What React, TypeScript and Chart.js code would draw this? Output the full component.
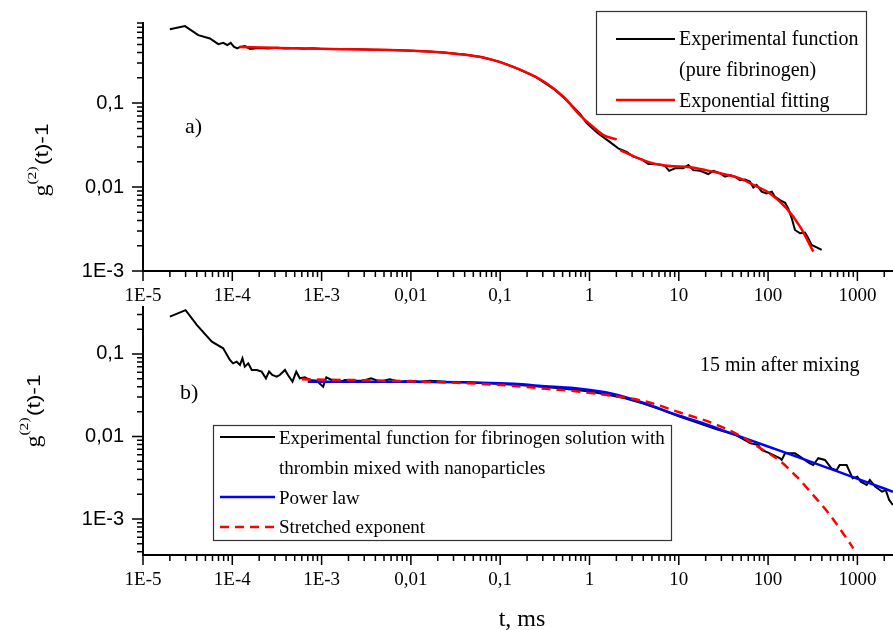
import React, { useEffect, useRef } from 'react';
import { Chart, registerables } from 'chart.js';

Chart.register(...registerables);

// ---------- axis ticks ----------
const xTickValues = [1e-5, 1e-4, 1e-3, 0.01, 0.1, 1, 10, 100, 1000];
const xTickLabels = ['1E-5', '1E-4', '1E-3', '0,01', '0,1', '1', '10', '100', '1000'];
const yTickValues = [1e-3, 0.01, 0.1];
const yTickLabels = ['1E-3', '0,01', '0,1'];

// ---------- panel a) pure fibrinogen ----------
const aExpT = [2e-5, 2.95e-5, 4.16e-5, 5.62e-5, 6.97e-5, 7.93e-5, 8.79e-5, 9.6e-5, 1.045e-4, 1.14e-4, 1.22e-4, 1.39e-4, 1.58e-4, 2e-4, 2.5e-4, 3.2e-4, 4e-4, 5e-4, 6.3e-4, 8e-4, 1e-3, 1.6e-3, 2.5e-3, 4e-3, 6.3e-3, 0.01, 0.016, 0.025, 0.04, 0.063, 0.1, 0.16, 0.25, 0.4, 0.6, 0.78, 0.93, 1.25, 1.6, 2.1, 2.6, 3.1, 3.85, 4.56, 5.65, 7.0, 7.8, 9.07, 11.2, 12.8, 14.5, 17.3, 21.4, 24.4, 28.9, 32.9, 37.4, 42.6, 48.4, 55.1, 62.7, 68.3, 74.4, 84.7, 96.3, 110, 119, 136, 155, 168, 184, 200, 228, 259, 282, 307, 350, 398];
const aExpV = [0.76, 0.826, 0.645, 0.589, 0.504, 0.522, 0.49, 0.522, 0.468, 0.448, 0.468, 0.478, 0.44, 0.452, 0.446, 0.455, 0.447, 0.452, 0.445, 0.449, 0.442, 0.441, 0.437, 0.433, 0.428, 0.421, 0.413, 0.399, 0.38, 0.352, 0.31, 0.255, 0.205, 0.147, 0.1, 0.075, 0.058, 0.0435, 0.036, 0.0289, 0.0263, 0.023, 0.0214, 0.0188, 0.0188, 0.0179, 0.0156, 0.0167, 0.0167, 0.0183, 0.0159, 0.0156, 0.0143, 0.0156, 0.0146, 0.0133, 0.0139, 0.0133, 0.0121, 0.0123, 0.0116, 0.0099, 0.0106, 0.0088, 0.0084, 0.0088, 0.0077, 0.007, 0.0065, 0.00557, 0.00424, 0.00308, 0.00281, 0.00286, 0.00245, 0.00204, 0.00191, 0.00178];

const aFit1T = [1.2e-4, 3e-4, 1e-3, 3e-3, 0.0106, 0.025, 0.059, 0.091, 0.14, 0.216, 0.33, 0.51, 0.78, 1.1, 1.43, 2.02];
const aFit1V = [0.465, 0.455, 0.443, 0.434, 0.42, 0.397, 0.356, 0.316, 0.27, 0.221, 0.172, 0.119, 0.072, 0.052, 0.0416, 0.037];

const aFit2T = [2.2, 4.0, 5.2, 8.0, 13.3, 20, 28.9, 48.4, 68.3, 105, 161, 228, 321];
const aFit2V = [0.0275, 0.0209, 0.0191, 0.0178, 0.0172, 0.0159, 0.0146, 0.0127, 0.0106, 0.0084, 0.00557, 0.00337, 0.0017];

// ---------- panel b) 15 min after mixing ----------
const bExpT = [2e-5, 3e-5, 4e-5, 5.9e-5, 7.9e-5, 9.4e-5, 1.02e-4, 1.12e-4, 1.22e-4, 1.3e-4, 1.38e-4, 1.51e-4, 1.65e-4, 1.88e-4, 2.13e-4, 2.38e-4, 2.58e-4, 2.8e-4, 3.14e-4, 3.4e-4, 3.89e-4, 4.2e-4, 4.72e-4, 5.2e-4, 5.7e-4, 6.5e-4, 7.4e-4, 8.8e-4, 1.04e-3, 1.13e-3, 1.3e-3, 1.61e-3, 1.83e-3, 2.25e-3, 2.9e-3, 3.6e-3, 4.5e-3, 5.8e-3, 7.5e-3, 9.8e-3, 0.0127, 0.0163, 0.025, 0.04, 0.063, 0.1, 0.16, 0.25, 0.4, 0.63, 1, 1.6, 2.5, 4, 6.3, 10, 16, 25, 37.4, 43.6, 50.9, 62.7, 77.4, 84.7, 105, 136, 142, 155, 200, 228, 293, 320, 365, 433, 513, 584, 633, 758, 885, 1000, 1090, 1270, 1380, 1580, 1890, 2080, 2270, 2500];
const bExpV = [0.283, 0.34, 0.225, 0.141, 0.117, 0.0846, 0.077, 0.0806, 0.0736, 0.0887, 0.0702, 0.077, 0.064, 0.064, 0.0611, 0.0507, 0.0611, 0.0556, 0.0531, 0.0556, 0.064, 0.0556, 0.0462, 0.0611, 0.0507, 0.0521, 0.0484, 0.0475, 0.0402, 0.0521, 0.0484, 0.0462, 0.0484, 0.0475, 0.0475, 0.0507, 0.0462, 0.0493, 0.0462, 0.0475, 0.0462, 0.0475, 0.046, 0.0455, 0.0445, 0.0432, 0.042, 0.0405, 0.039, 0.037, 0.035, 0.032, 0.029, 0.025, 0.0212, 0.0175, 0.0148, 0.0125, 0.0109, 0.0104, 0.0095, 0.0083, 0.0079, 0.00686, 0.00625, 0.00545, 0.0052, 0.00625, 0.00625, 0.0057, 0.00473, 0.0045, 0.00545, 0.0052, 0.00411, 0.0039, 0.0045, 0.0045, 0.00311, 0.00326, 0.00283, 0.00258, 0.00297, 0.00247, 0.00214, 0.00224, 0.0017, 0.00148];

const bPowT = [7e-4, 3e-3, 0.01, 0.059, 0.14, 0.33, 0.78, 1.85, 4.37, 10.3, 17.3, 40.7, 96, 228, 537, 1270, 2505];
const bPowV = [0.0462, 0.0461, 0.046, 0.0449, 0.0435, 0.0405, 0.0378, 0.0327, 0.0248, 0.0177, 0.0149, 0.0107, 0.00767, 0.0055, 0.00393, 0.0028, 0.00214];

const bStrT = [6e-4, 3e-3, 0.0106, 0.059, 0.14, 0.33, 0.78, 1.85, 4.37, 10.3, 24.3, 48.4, 88, 136, 209, 320, 493, 758, 902];
const bStrV = [0.0493, 0.048, 0.0465, 0.0435, 0.041, 0.0378, 0.0349, 0.031, 0.0264, 0.0195, 0.0144, 0.0102, 0.00686, 0.00505, 0.00326, 0.00195, 0.00112, 5.8e-4, 4.4e-4];

// ---------- helpers ----------
const SERIF = '"Liberation Serif", "Times New Roman", serif';
const SANS = '"Liberation Sans", Arial, sans-serif';
const X_MIN = 1e-5;
const X_MAX = 2505;

const pts = (t: number[], v: number[]) => t.map((x, i) => ({ x, y: v[i] }));

const logTicksPlugin = {
  id: 'logTicks',
  afterDraw(chart: any) {
    const ctx = chart.ctx;
    const xs = chart.scales.x;
    const ys = chart.scales.y;
    ctx.save();
    ctx.strokeStyle = '#000';
    ctx.lineWidth = 1.5;
    ctx.beginPath();
    for (let e = -6; e <= 4; e++) {
      for (let m = 1; m <= 9; m++) {
        const v = m * Math.pow(10, e);
        if (v >= xs.min * 0.999 && v <= xs.max) {
          const px = xs.getPixelForValue(v);
          const len = m === 1 ? 10 : 6;
          ctx.moveTo(px, xs.top);
          ctx.lineTo(px, xs.top + len);
        }
        if (v >= ys.min && v <= ys.max * 1.001) {
          const py = ys.getPixelForValue(v);
          const len = m === 1 ? 11 : 6;
          ctx.moveTo(ys.right, py);
          ctx.lineTo(ys.right - len, py);
        }
      }
    }
    ctx.stroke();
    ctx.restore();
  },
};

function drawYTitle(ctx: CanvasRenderingContext2D, baseX: number, cy: number) {
  ctx.save();
  ctx.translate(baseX, cy);
  ctx.rotate(-Math.PI / 2);
  ctx.scale(1.2, 1);
  ctx.fillStyle = '#000';
  ctx.textBaseline = 'alphabetic';
  const fG = `20px ${SERIF}`;
  const fSup = `13px ${SERIF}`;
  const fRest = `19px ${SANS}`;
  ctx.font = fG;
  const wG = ctx.measureText('g').width;
  ctx.font = fSup;
  const wS = ctx.measureText('(2)').width;
  ctx.font = fRest;
  const wR = ctx.measureText('(t)-1').width;
  const total = wG + wS + wR + 1;
  let x = -total / 2;
  ctx.font = fG;
  ctx.fillText('g', x, 0);
  x += wG;
  ctx.font = fSup;
  ctx.fillText('(2)', x, -12);
  x += wS + 1;
  ctx.font = fRest;
  ctx.fillText('(t)-1', x, 0);
  ctx.restore();
}

function legendLine(ctx: CanvasRenderingContext2D, x1: number, x2: number, y: number, color: string, w: number, dash: number[] = []) {
  ctx.save();
  ctx.strokeStyle = color;
  ctx.lineWidth = w;
  ctx.setLineDash(dash);
  ctx.beginPath();
  ctx.moveTo(x1, y);
  ctx.lineTo(x2, y);
  ctx.stroke();
  ctx.restore();
}

function text(ctx: CanvasRenderingContext2D, s: string, x: number, y: number, size: number, align: CanvasTextAlign = 'left', family = SERIF) {
  ctx.save();
  ctx.fillStyle = '#000';
  ctx.font = `${size}px ${family}`;
  ctx.textAlign = align;
  ctx.textBaseline = 'middle';
  ctx.fillText(s, x, y);
  ctx.restore();
}

const decorTop = {
  id: 'decorTop',
  afterDraw(chart: any) {
    const ctx = chart.ctx as CanvasRenderingContext2D;
    drawYTitle(ctx, 48, 160);
    text(ctx, 'a)', 185, 127, 22);
    ctx.save();
    ctx.strokeStyle = '#333';
    ctx.lineWidth = 1.2;
    ctx.strokeRect(596.5, 11.5, 270, 103);
    ctx.restore();
    legendLine(ctx, 616, 675, 39, '#000', 2);
    text(ctx, 'Experimental function', 679, 40, 20);
    text(ctx, '(pure fibrinogen)', 679, 71, 20);
    legendLine(ctx, 616, 675, 100, '#ff0000', 2.5);
    text(ctx, 'Exponential fitting', 679, 102, 20);
  },
};

const decorBottom = {
  id: 'decorBottom',
  afterDraw(chart: any) {
    const ctx = chart.ctx as CanvasRenderingContext2D;
    drawYTitle(ctx, 40, 111);
    text(ctx, 'b)', 180, 93, 22);
    text(ctx, '15 min after mixing', 700, 66, 20);
    ctx.save();
    ctx.strokeStyle = '#333';
    ctx.lineWidth = 1.2;
    ctx.strokeRect(213.5, 125.5, 458, 115);
    ctx.restore();
    legendLine(ctx, 220, 275, 137, '#000', 2);
    text(ctx, 'Experimental function for fibrinogen solution with', 279, 139, 19);
    text(ctx, 'thrombin mixed with nanoparticles', 279, 169, 19);
    legendLine(ctx, 220, 275, 197, '#0000ff', 2.5);
    text(ctx, 'Power law', 279, 199, 19);
    legendLine(ctx, 220, 275, 227, '#ff0000', 2.5, [9, 6]);
    text(ctx, 'Stretched exponent', 279, 228, 19);
    ctx.save();
    ctx.fillStyle = '#000';
    ctx.font = `24px ${SERIF}`;
    ctx.textAlign = 'center';
    ctx.textBaseline = 'alphabetic';
    ctx.fillText('t, ms', 522, 326);
    ctx.restore();
  },
};

function makeOptions(yMin: number, yMax: number, padTop: number, xAxisHeight: number): any {
  return {
    animation: false,
    responsive: false,
    maintainAspectRatio: false,
    events: [],
    layout: { padding: { top: padTop, right: 0, left: 0, bottom: 0 }, autoPadding: false },
    plugins: { legend: { display: false }, tooltip: { enabled: false }, title: { display: false } },
    scales: {
      x: {
        type: 'logarithmic',
        position: 'bottom',
        min: X_MIN,
        max: X_MAX,
        border: { display: true, color: '#000', width: 2 },
        grid: { display: false, drawTicks: false },
        afterBuildTicks: (s: any) => {
          s.ticks = xTickValues.map((v) => ({ value: v }));
        },
        afterFit: (s: any) => {
          s.height = xAxisHeight;
          s.paddingLeft = 0;
          s.paddingRight = 0;
          s.paddingTop = 0;
          s.paddingBottom = 0;
        },
        ticks: {
          autoSkip: false,
          maxRotation: 0,
          minRotation: 0,
          padding: 14,
          color: '#000',
          font: { family: SERIF, size: 19 },
          callback: (_v: any, i: number) => xTickLabels[i],
        },
      },
      y: {
        type: 'logarithmic',
        position: 'left',
        min: yMin,
        max: yMax,
        border: { display: true, color: '#000', width: 2 },
        grid: { display: false, drawTicks: false },
        afterBuildTicks: (s: any) => {
          s.ticks = yTickValues.map((v) => ({ value: v }));
        },
        afterFit: (s: any) => {
          s.width = 143;
          s.paddingLeft = 0;
          s.paddingRight = 0;
          s.paddingTop = 0;
          s.paddingBottom = 0;
        },
        ticks: {
          autoSkip: false,
          padding: 19,
          color: '#000',
          font: { family: SANS, size: 20 },
          callback: (_v: any, i: number) => yTickLabels[i],
        },
      },
    },
  };
}

const lineDefaults = { pointRadius: 0, pointHoverRadius: 0, fill: false };

export default function App() {
  const topRef = useRef<HTMLCanvasElement>(null);
  const botRef = useRef<HTMLCanvasElement>(null);

  useEffect(() => {
    const c1 = new Chart(topRef.current as HTMLCanvasElement, {
      type: 'line',
      data: {
        datasets: [
          { ...lineDefaults, label: 'Experimental function (pure fibrinogen)', data: pts(aExpT, aExpV), borderColor: '#000', borderWidth: 2, tension: 0, order: 2 },
          { ...lineDefaults, label: 'Exponential fitting', data: pts(aFit1T, aFit1V), borderColor: '#ff0000', borderWidth: 2.5, cubicInterpolationMode: 'monotone', order: 1 },
          { ...lineDefaults, label: 'Exponential fitting 2', data: pts(aFit2T, aFit2V), borderColor: '#ff0000', borderWidth: 2.5, cubicInterpolationMode: 'monotone', order: 1 },
        ],
      } as any,
      options: makeOptions(1e-3, 0.9, 23, 39),
      plugins: [logTicksPlugin, decorTop],
    });
    const c2 = new Chart(botRef.current as HTMLCanvasElement, {
      type: 'line',
      data: {
        datasets: [
          { ...lineDefaults, label: 'Experimental function', data: pts(bExpT, bExpV), borderColor: '#000', borderWidth: 2, tension: 0, order: 3 },
          { ...lineDefaults, label: 'Power law', data: pts(bPowT, bPowV), borderColor: '#0000ff', borderWidth: 2.5, cubicInterpolationMode: 'monotone', order: 2 },
          { ...lineDefaults, label: 'Stretched exponent', data: pts(bStrT, bStrV), borderColor: '#ff0000', borderWidth: 2.5, borderDash: [9, 6], cubicInterpolationMode: 'monotone', order: 1 },
        ],
      } as any,
      options: makeOptions(3.66e-4, 0.371, 7, 75),
      plugins: [logTicksPlugin, decorBottom],
    });
    return () => {
      c1.destroy();
      c2.destroy();
    };
  }, []);

  return (
    <div style={{ position: 'absolute', left: 0, top: 0, width: 893, height: 630, background: '#fff', overflow: 'hidden' }}>
      <canvas ref={topRef} width={893} height={310} style={{ position: 'absolute', left: 0, top: 0 }} />
      <canvas ref={botRef} width={893} height={330} style={{ position: 'absolute', left: 0, top: 300 }} />
    </div>
  );
}
